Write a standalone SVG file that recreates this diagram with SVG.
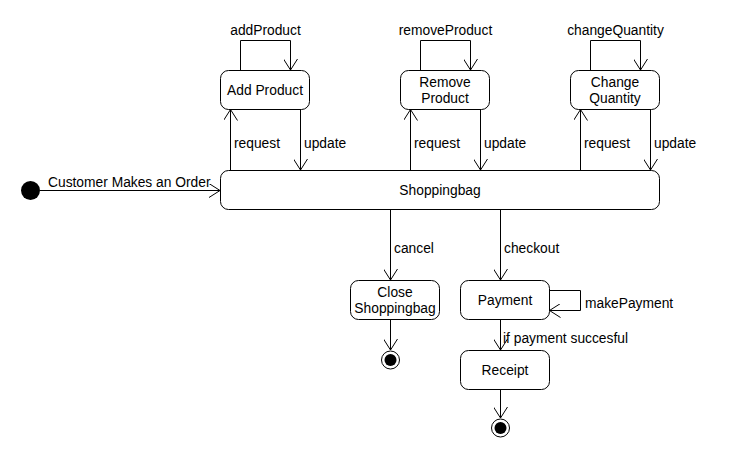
<svg xmlns="http://www.w3.org/2000/svg" width="730" height="460" viewBox="0 0 730 460">
<defs>
<marker id="arr" viewBox="0 0 12 14" refX="11" refY="7" markerWidth="12" markerHeight="14" markerUnits="userSpaceOnUse" orient="auto">
<path d="M0,0 L11,7 L0,14" fill="none" stroke="#000" stroke-width="1"/>
</marker>
<style>
rect.s{fill:#fff;stroke:#000;stroke-width:1}
text{font-family:"Liberation Sans",Arial,sans-serif;font-size:13.8px;fill:#000}
.c{text-anchor:middle}
path.e{fill:none;stroke:#000;stroke-width:1;marker-end:url(#arr)}
</style>
</defs>
<rect width="730" height="460" fill="#fff"/>
<g id="connectors">
<path class="e" d="M40,190.5 H220"/>
<path class="e" d="M240.5,70 V40.5 H290.5 V70"/>
<path class="e" d="M230.5,170 V109.5"/>
<path class="e" d="M300.5,109.5 V170"/>
<path class="e" d="M420.5,70 V40.5 H470.5 V70"/>
<path class="e" d="M410.5,170 V109.5"/>
<path class="e" d="M480.5,109.5 V170"/>
<path class="e" d="M590.5,70 V40.5 H640.5 V70"/>
<path class="e" d="M580.5,170 V109.5"/>
<path class="e" d="M650.5,109.5 V170"/>
<path class="e" d="M390.5,209.5 V280"/>
<path class="e" d="M500.5,209.5 V280"/>
<path class="e" d="M549.5,290.5 H580.5 V310.5 H549.5"/>
<path class="e" d="M500.5,319.5 V350"/>
<path class="e" d="M390.5,319.5 V350"/>
<path class="e" d="M500.5,389.5 V418"/>
<text x="48" y="187">Customer Makes an Order</text>
<text x="265.5" y="35" class="c">addProduct</text>
<text x="445.5" y="35" class="c">removeProduct</text>
<text x="615.5" y="35" class="c">changeQuantity</text>
<text x="234" y="148">request</text>
<text x="304" y="148">update</text>
<text x="414" y="148">request</text>
<text x="484" y="148">update</text>
<text x="584" y="148">request</text>
<text x="654" y="148">update</text>
<text x="394" y="253">cancel</text>
<text x="504" y="253">checkout</text>
<text x="585" y="308">makePayment</text>
<text x="503" y="343">if payment succesful</text>
</g>
<g id="initial"><circle cx="30.5" cy="190.5" r="9.5" fill="#000"/></g>
<g id="addProduct"><rect class="s" x="220.5" y="70.5" width="89" height="39" rx="8"/><text x="265" y="95" class="c">Add Product</text></g>
<g id="removeProduct"><rect class="s" x="400.5" y="70.5" width="89" height="39" rx="8"/><text x="445" y="87" class="c">Remove</text><text x="445" y="103" class="c">Product</text></g>
<g id="changeQuantity"><rect class="s" x="570.5" y="70.5" width="89" height="39" rx="8"/><text x="615" y="87" class="c">Change</text><text x="615" y="103" class="c">Quantity</text></g>
<g id="shoppingbag"><rect class="s" x="220.5" y="170.5" width="439" height="39" rx="8"/><text x="440" y="195" class="c">Shoppingbag</text></g>
<g id="closeShoppingbag"><rect class="s" x="350.5" y="280.5" width="89" height="39" rx="8"/><text x="395" y="297" class="c">Close</text><text x="395" y="313" class="c">Shoppingbag</text></g>
<g id="payment"><rect class="s" x="460.5" y="280.5" width="89" height="39" rx="8"/><text x="505" y="305" class="c">Payment</text></g>
<g id="receipt"><rect class="s" x="460.5" y="350.5" width="89" height="39" rx="8"/><text x="505" y="375" class="c">Receipt</text></g>
<g id="final1"><circle cx="390.5" cy="360" r="9" fill="#fff" stroke="#000"/><circle cx="390.5" cy="360" r="6" fill="#000"/></g>
<g id="final2"><circle cx="500.5" cy="428" r="9" fill="#fff" stroke="#000"/><circle cx="500.5" cy="428" r="6" fill="#000"/></g>
</svg>
